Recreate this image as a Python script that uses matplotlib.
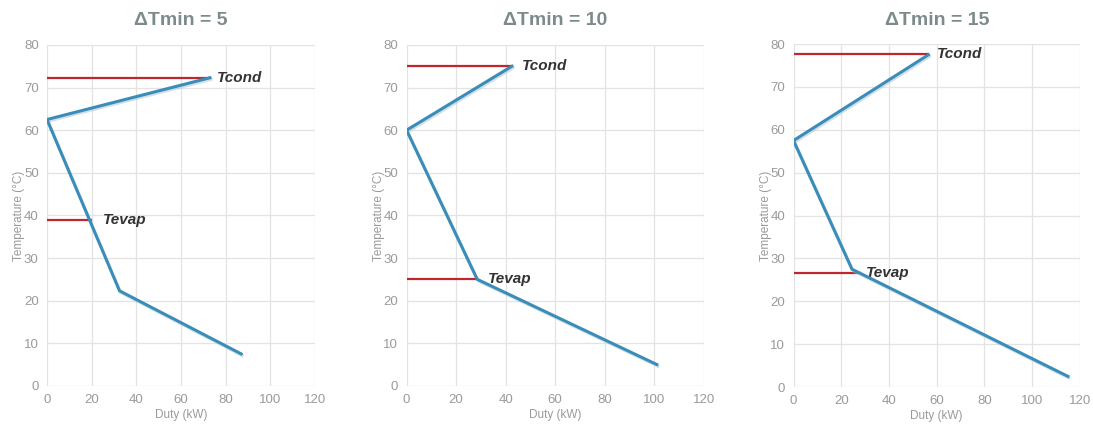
import matplotlib.pyplot as plt
import matplotlib.patheffects as pe

plt.rcParams["font.family"] = ["Liberation Sans", "DejaVu Sans"]

# -------------------------------------------------
# Data
# -------------------------------------------------
TITLES = ["\u0394Tmin = 5", "\u0394Tmin = 10", "\u0394Tmin = 15"]

duty_1 = [73, 0, 32.5, 87]
temp_1 = [72.3, 62.5, 22.3, 7.5]
duty_2 = [42.5, 0, 28.5, 101]
temp_2 = [75, 60, 25, 5]
duty_3 = [56.5, 0, 24.5, 115]
temp_3 = [77.5, 57.5, 27.5, 2.5]

tcond = [72.3, 75, 77.7]
tcond_end = [73, 42.5, 56.5]
tevap = [39, 25, 26.7]
tevap_end = [19.5, 28.5, 28]

tcond_label_x = [76, 46.5, 60]
tevap_label_x = [25, 33, 30.5]

DUTY = [duty_1, duty_2, duty_3]
TEMP = [temp_1, temp_2, temp_3]

# -------------------------------------------------
# Style
# -------------------------------------------------
BLUE = "#3a8db8"
RED = "#c0272d"
GRID = "#e3e3e3"
TICK = "#9a9a9a"
TITLE_GREY = "#7d8a8c"
DARK = "#333333"

DPI = 100
fig = plt.figure(figsize=(1093 / DPI, 424 / DPI), dpi=DPI)
fig.patch.set_facecolor("white")

boxes = [
    (0.043, 0.090, 0.245, 0.804),
    (0.372, 0.090, 0.272, 0.804),
    (0.726, 0.087, 0.262, 0.809),
]

shadow = [pe.SimpleLineShadow(offset=(0.8, -1.2), shadow_color="#a9c3d2", alpha=0.5), pe.Normal()]

for i, box in enumerate(boxes):
    ax = fig.add_axes(box)
    ax.set_xlim(0, 120)
    ax.set_ylim(0, 80)
    ax.set_xticks(range(0, 121, 20))
    ax.set_yticks(range(0, 81, 10))
    ax.grid(True, color=GRID, linewidth=0.9)
    ax.set_axisbelow(True)
    for s in ax.spines.values():
        s.set_visible(False)
    ax.tick_params(length=0, labelsize=9.5, colors=TICK, pad=6)

    # red temperature levels
    ax.plot([0, tcond_end[i]], [tcond[i], tcond[i]], color=RED, lw=1.6, zorder=3)
    ax.plot([0, tevap_end[i]], [tevap[i], tevap[i]], color=RED, lw=1.6, zorder=3)

    # duty curve
    ax.plot(DUTY[i], TEMP[i], color=BLUE, lw=2.2, zorder=4,
            solid_joinstyle="miter", path_effects=shadow)

    ax.text(tcond_label_x[i], tcond[i], "Tcond", fontsize=11, fontweight="bold",
            style="italic", color=DARK, va="center", ha="left")
    ax.text(tevap_label_x[i], tevap[i], "Tevap", fontsize=11, fontweight="bold",
            style="italic", color=DARK, va="center", ha="left")

    ax.set_xlabel("Duty (kW)", fontsize=8.5, color=TICK, labelpad=2)
    ax.set_ylabel("Temperature (\u00b0C)", fontsize=8.5, color=TICK, labelpad=-1)
    ax.set_title(TITLES[i], fontsize=14, fontweight="bold", color=TITLE_GREY, pad=14)

fig.savefig("out.png", dpi=DPI, facecolor=fig.get_facecolor())
